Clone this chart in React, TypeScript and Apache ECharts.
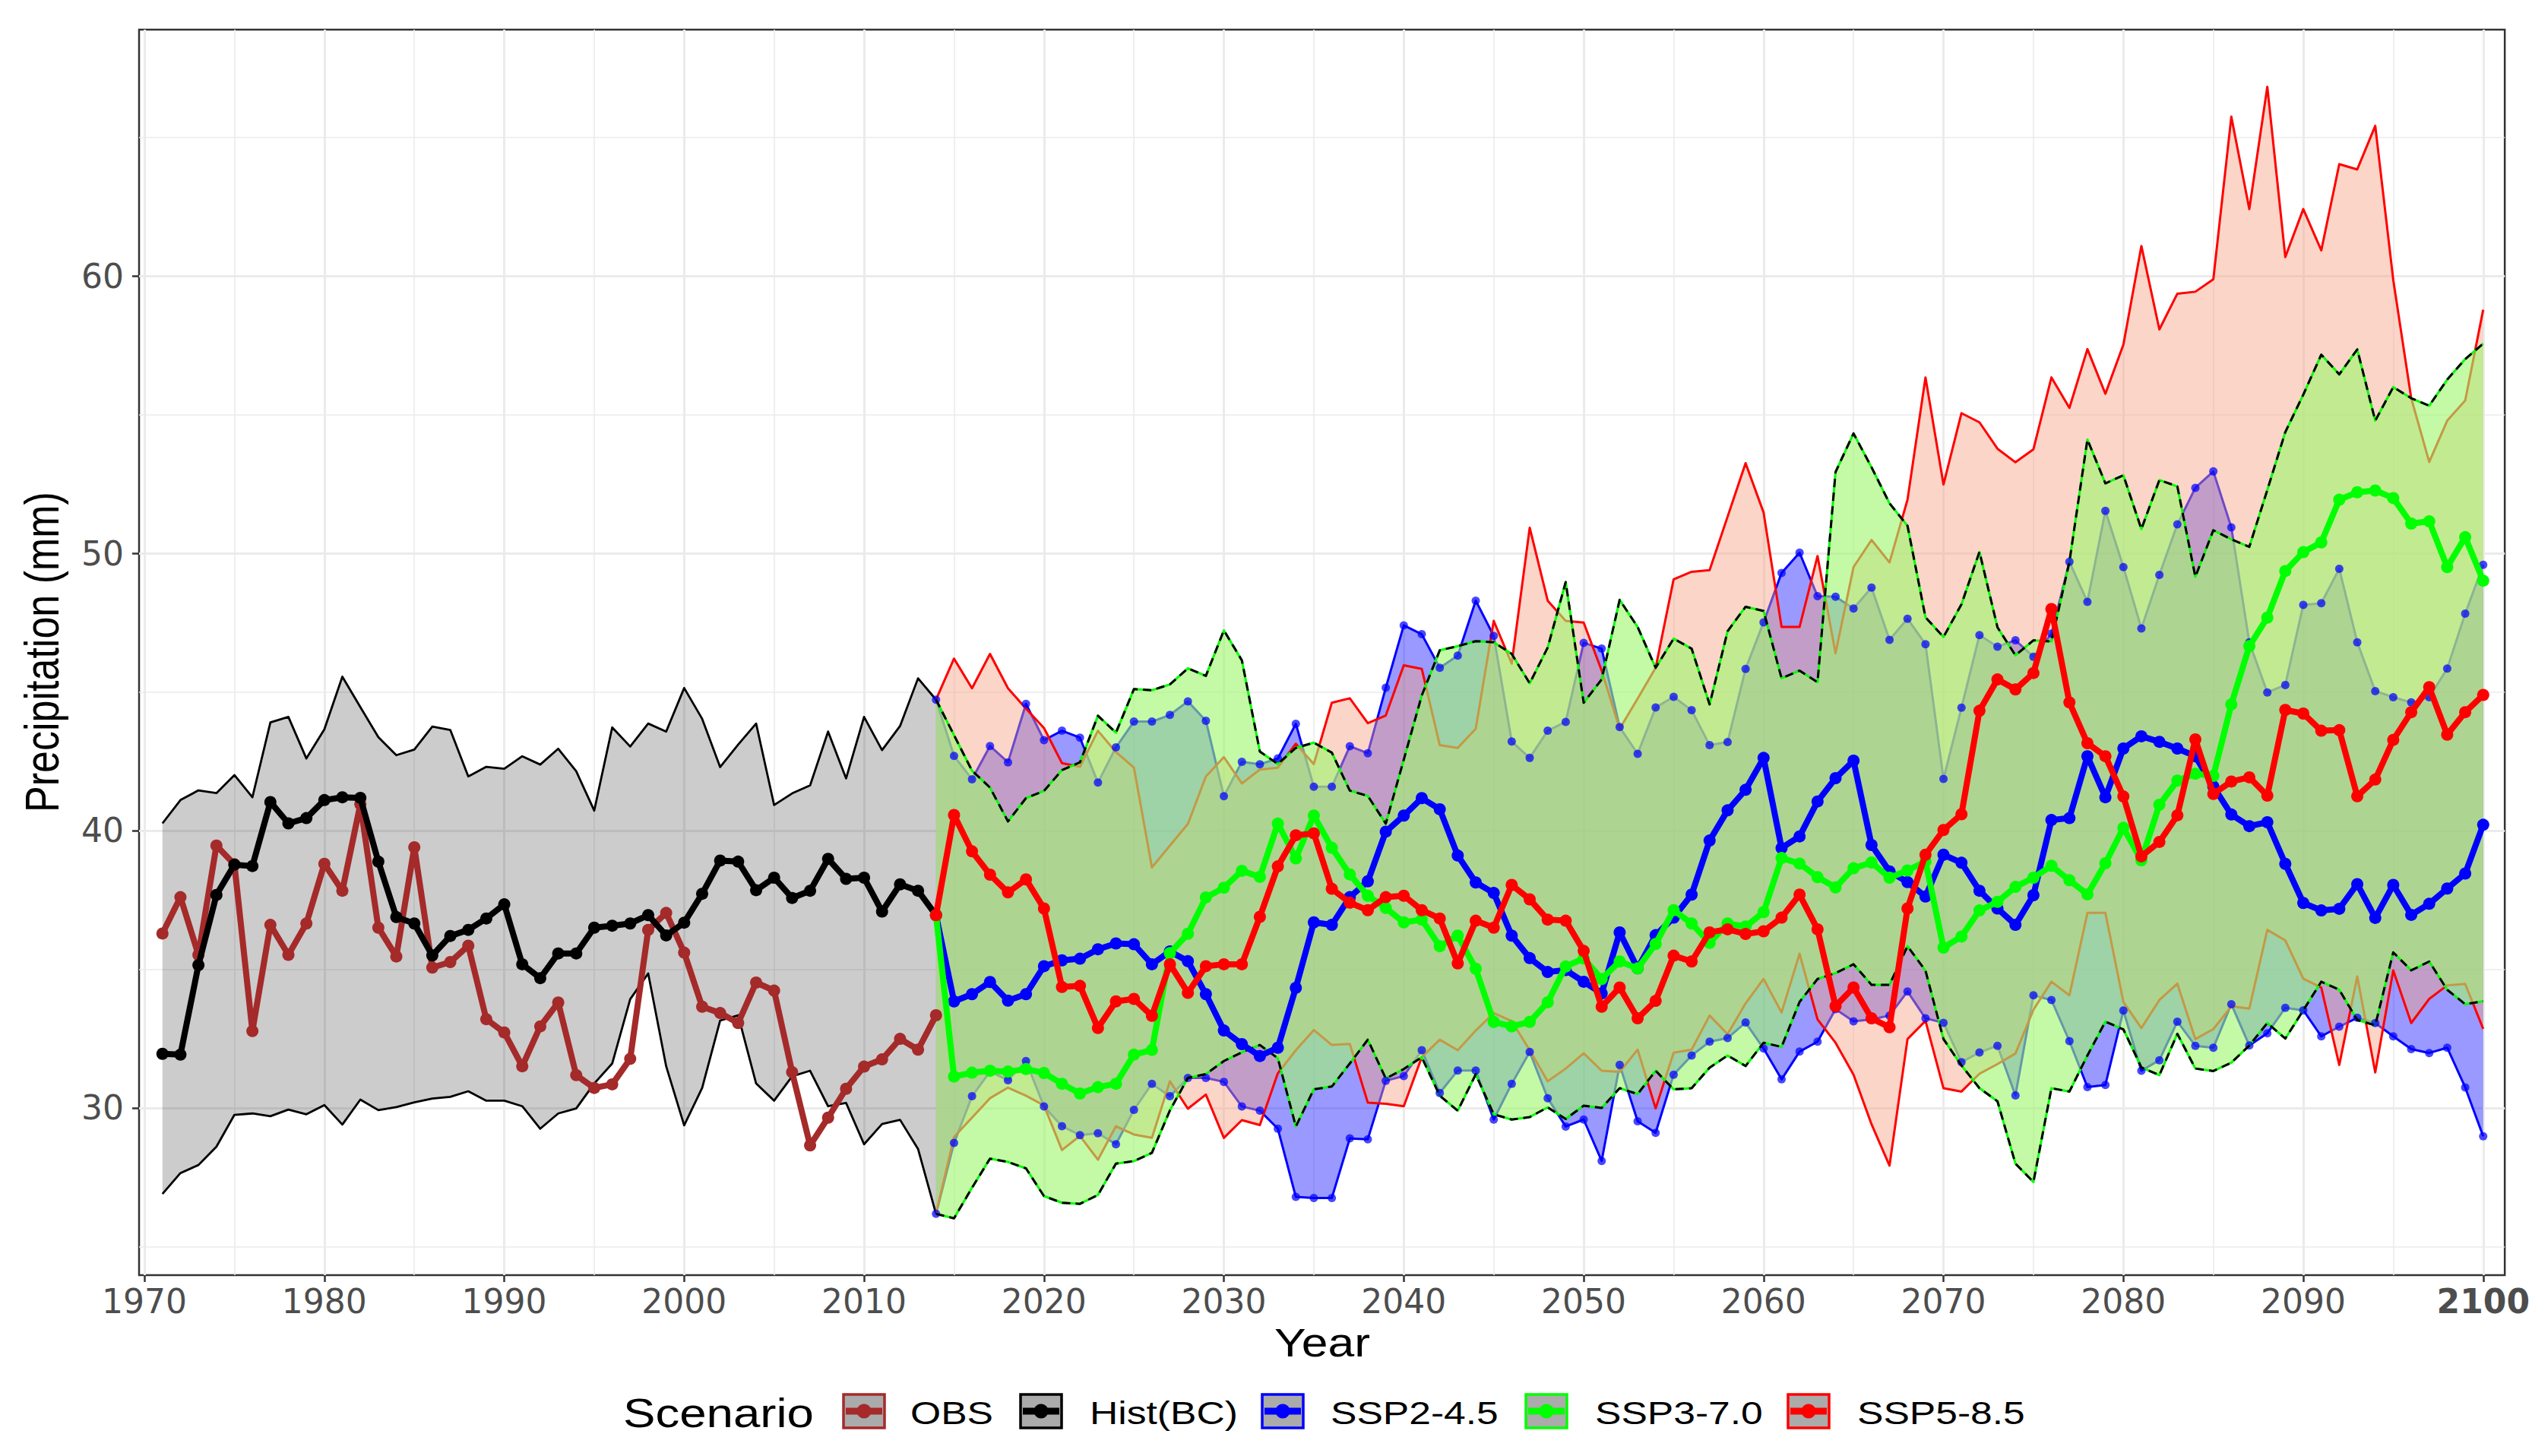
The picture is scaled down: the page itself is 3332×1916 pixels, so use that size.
import React, { useEffect, useRef } from 'react';
import * as echarts from 'echarts';

// ---------- DATA ----------
const histYears: number[] = Array.from({ length: 44 }, (_, i) => 1971 + i); // 1971..2014
const futureYears: number[] = Array.from({ length: 87 }, (_, i) => 2014 + i); // 2014..2100

const obsValues = [
  36.29, 37.6, 35.52, 39.46, 38.78, 32.77, 36.6, 35.52, 36.65, 38.8,
  37.83, 40.95, 36.5, 35.46, 39.4, 35.06, 35.26, 35.85, 33.2, 32.72,
  31.5, 32.94, 33.8, 31.18, 30.72, 30.85, 31.77, 36.42, 37.03, 35.6,
  33.65, 33.42, 33.06, 34.52, 34.23, 31.29, 28.65, 29.65, 30.69, 31.49,
  31.75, 32.49, 32.1, 33.34,
];
const histMean = [
  31.95, 31.92, 35.15, 37.68, 38.77, 38.72, 41.03, 40.26, 40.45, 41.1,
  41.2, 41.18, 38.88, 36.88, 36.65, 35.5, 36.2, 36.42, 36.83, 37.34,
  35.18, 34.68, 35.57, 35.57, 36.5, 36.57, 36.65, 36.95, 36.22, 36.68,
  37.72, 38.92, 38.88, 37.85, 38.3, 37.57, 37.83, 38.98, 38.26, 38.3,
  37.08, 38.06, 37.83, 36.95,
];
const histUpper = [
  40.26, 41.1, 41.45, 41.35, 42.0, 41.2, 43.9, 44.1, 42.6, 43.65,
  45.55, 44.45, 43.37, 42.72, 42.92, 43.75, 43.63, 41.95, 42.3, 42.23,
  42.68, 42.38, 42.95, 42.14, 40.72, 43.72, 43.03, 43.86, 43.57, 45.14,
  44.03, 42.29, 43.1, 43.86, 40.92, 41.34, 41.63, 43.57, 41.88, 44.1,
  42.9, 43.77, 45.49, 44.72,
];
const histLower = [
  26.9, 27.65, 27.94, 28.6, 29.75, 29.8, 29.7, 29.94, 29.77, 30.1,
  29.4, 30.3, 29.92, 30.03, 30.2, 30.34, 30.4, 30.6, 30.26, 30.26,
  30.06, 29.25, 29.8, 29.98, 30.88, 31.6, 33.92, 34.85, 31.5, 29.37,
  30.72, 33.15, 33.34, 30.88, 30.26, 31.14, 31.34, 30.06, 30.18, 28.69,
  29.42, 29.57, 28.52, 26.18,
];

const ssp245Mean = [
  36.95, 33.84, 34.1, 34.54, 33.87, 34.1,
  35.11, 35.32, 35.38, 35.72, 35.93, 35.9, 35.18, 35.64, 35.29, 34.1,
  32.79, 32.3, 31.87, 32.17, 34.33, 36.69, 36.6, 37.6, 38.17, 39.96,
  40.54, 41.17, 40.77, 39.1, 38.13, 37.75, 36.21, 35.4, 34.9, 34.97,
  34.55, 34.13, 36.33, 35.03, 36.23, 36.86, 37.69, 39.64, 40.73, 41.47,
  42.62, 39.37, 39.79, 41.05, 41.89, 42.52, 39.48, 38.53, 38.14, 37.62,
  39.13, 38.84, 37.83, 37.19, 36.6, 37.67, 40.38, 40.45, 42.68, 41.2,
  42.96, 43.4, 43.2, 42.96, 42.68, 41.59, 40.58, 40.16, 40.3, 38.8,
  37.39, 37.12, 37.18, 38.07, 36.85, 38.04, 36.96, 37.36, 37.91, 38.45, 40.21,
];
const ssp245Upper = [
  44.72, 42.69, 41.85, 43.05, 42.46, 44.57,
  43.26, 43.6, 43.35, 41.73, 43.0, 43.93, 43.93, 44.17, 44.66, 43.96,
  41.24, 42.48, 42.39, 42.6, 43.85, 41.58, 41.58, 43.04, 42.79, 45.15,
  47.4, 47.08, 45.87, 46.31, 48.29, 47.02, 43.21, 42.62, 43.6, 43.92,
  46.77, 46.56, 43.73, 42.77, 44.44, 44.82, 44.34, 43.08, 43.19, 45.83,
  47.51, 49.29, 50.02, 48.45, 48.43, 48.01, 48.76, 46.88, 47.64, 46.72,
  41.86, 44.43, 47.05, 46.63, 46.86, 46.27, 47.1, 49.69, 48.25, 51.53,
  49.5, 47.29, 49.22, 51.04, 52.36, 52.95, 50.93, 46.79, 44.98, 45.25,
  48.14, 48.2, 49.44, 46.79, 45.03, 44.81, 44.62, 44.81, 45.84, 47.82, 49.58,
];
const ssp245Lower = [
  26.18, 28.74, 30.42, 31.31, 31.0, 31.69,
  30.05, 29.34, 29.02, 29.09, 28.69, 29.93, 30.87, 30.42, 31.08, 31.08,
  30.94, 30.05, 29.9, 29.25, 26.79, 26.75, 26.75, 28.9, 28.87, 30.98,
  31.15, 32.08, 30.54, 31.35, 31.35, 29.58, 30.87, 32.02, 30.35, 29.33,
  29.58, 28.09, 31.55, 29.52, 29.1, 31.2, 31.89, 32.39, 32.52, 33.08,
  32.14, 31.03, 32.03, 32.39, 33.56, 33.12, 33.19, 33.33, 34.2, 33.23,
  33.07, 31.65, 32.0, 32.24, 30.45, 34.06, 33.89, 32.41, 30.75, 30.83,
  33.51, 31.34, 31.72, 33.11, 32.24, 32.17, 33.74, 32.25, 32.69, 33.61,
  33.52, 32.58, 32.93, 33.25, 33.06, 32.58, 32.12, 31.98, 32.17, 30.74, 28.98,
];

const ssp370Mean = [
  36.95, 31.13, 31.27, 31.34, 31.31, 31.4,
  31.26, 30.87, 30.52, 30.75, 30.87, 31.92, 32.09, 35.58, 36.28, 37.59,
  37.94, 38.55, 38.33, 40.25, 39.0, 40.54, 39.38, 38.42, 37.65, 37.21,
  36.69, 36.79, 35.83, 36.21, 35.02, 33.1, 32.94, 33.1, 33.81, 35.1,
  35.39, 34.65, 35.28, 35.03, 35.91, 37.13, 36.65, 35.95, 36.65, 36.54,
  37.06, 39.01, 38.81, 38.32, 37.95, 38.64, 38.85, 38.3, 38.56, 38.89,
  35.78, 36.18, 37.12, 37.43, 37.97, 38.3, 38.73, 38.21, 37.7, 38.82,
  40.1, 38.93, 40.93, 41.8, 42.05, 41.97, 44.55, 46.65, 47.68, 49.36,
  50.04, 50.39, 51.93, 52.2, 52.26, 51.99, 51.07, 51.15, 49.5, 50.58, 49.01,
];
const ssp370Upper = [
  44.72, 43.44, 42.16, 41.55, 40.33, 41.17,
  41.43, 42.18, 42.46, 44.14, 43.53, 45.1, 45.06, 45.27, 45.85, 45.58,
  47.22, 46.14, 42.85, 42.4, 42.98, 43.17, 42.81, 41.44, 41.25, 40.25,
  42.56, 44.87, 46.5, 46.65, 46.83, 46.79, 46.37, 45.31, 46.6, 48.96,
  44.61, 45.45, 48.32, 47.34, 45.87, 46.92, 46.56, 44.55, 47.19, 48.07,
  47.92, 45.49, 45.77, 45.35, 52.93, 54.32, 53.1, 51.8, 50.99, 47.69,
  46.98, 48.16, 50.05, 47.33, 46.32, 46.86, 46.82, 49.69, 54.1, 52.52,
  52.81, 50.87, 52.64, 52.41, 49.15, 50.83, 50.5, 50.23, 52.28, 54.37,
  55.72, 57.16, 56.45, 57.35, 54.78, 55.99, 55.59, 55.32, 56.26, 57.0, 57.56,
];
const ssp370Lower = [
  26.18, 26.02, 27.12, 28.17, 28.05, 27.82,
  26.82, 26.58, 26.54, 26.86, 27.99, 28.08, 28.38, 29.91, 31.08, 31.22,
  31.69, 32.0, 32.27, 31.79, 29.33, 30.67, 30.77, 31.6, 32.46, 31.06,
  31.4, 31.83, 30.44, 29.9, 31.21, 29.77, 29.58, 29.67, 30.02, 29.6,
  30.08, 30.0, 30.71, 30.5, 31.34, 30.67, 30.71, 31.45, 31.89, 31.51,
  32.35, 32.2, 33.82, 34.65, 34.86, 35.18, 34.44, 34.44, 35.83, 34.95,
  32.48, 31.53, 30.71, 30.24, 27.99, 27.33, 30.71, 30.59, 31.89, 33.11,
  32.83, 31.46, 31.18, 32.67, 31.42, 31.33, 31.63, 32.25, 33.06, 32.5,
  33.52, 34.55, 34.26, 33.17, 32.98, 35.61, 34.96, 35.28, 34.26, 33.74, 33.85,
];

const ssp585Mean = [
  36.95, 40.56, 39.25, 38.41, 37.77, 38.24,
  37.19, 34.36, 34.4, 32.88, 33.84, 33.93, 33.32, 35.18, 34.15, 35.11,
  35.18, 35.18, 36.89, 38.71, 39.83, 39.9, 37.9, 37.4, 37.13, 37.6,
  37.65, 37.13, 36.83, 35.21, 36.75, 36.5, 38.04, 37.52, 36.79, 36.75,
  35.66, 33.65, 34.34, 33.23, 33.86, 35.49, 35.28, 36.33, 36.44, 36.27,
  36.37, 36.86, 37.69, 36.44, 33.67, 34.34, 33.23, 32.91, 37.19, 39.13,
  40.02, 40.59, 44.32, 45.45, 45.09, 45.68, 47.99, 44.62, 43.15, 42.68,
  41.23, 39.07, 39.59, 40.55, 43.29, 41.32, 41.77, 41.92, 41.26, 44.35,
  44.22, 43.6, 43.62, 41.24, 41.84, 43.27, 44.27, 45.17, 43.46, 44.27, 44.89,
];
const ssp585Upper = [
  44.72, 46.2, 45.13, 46.37, 45.13, 44.4,
  43.7, 42.43, 42.3, 43.6, 42.83, 42.27, 38.67, 39.46, 40.24, 41.95,
  42.65, 41.7, 42.2, 42.27, 43.13, 42.4, 44.61, 44.77, 43.87, 44.15,
  45.96, 45.83, 43.08, 42.98, 43.67, 47.56, 46.02, 50.92, 48.29, 47.56,
  47.5, 45.77, 43.67, 44.76, 45.87, 49.06, 49.33, 49.39, 51.32, 53.25,
  51.47, 47.34, 47.34, 49.9, 46.39, 49.5, 50.48, 49.67, 51.93, 56.34,
  52.48, 55.05, 54.72, 53.77, 53.28, 53.75, 56.34, 55.24, 57.36, 55.75,
  57.52, 61.08, 58.07, 59.36, 59.43, 59.88, 65.74, 62.41, 66.82, 60.68,
  62.41, 60.92, 64.03, 63.84, 65.41, 59.86, 55.59, 53.29, 54.78, 55.51, 58.78,
];
const ssp585Lower = [
  26.18, 28.95, 29.65, 30.35, 30.73, 30.44,
  30.09, 28.48, 28.99, 28.13, 29.34, 29.04, 28.92, 30.96, 29.97, 30.48,
  28.92, 29.56, 29.38, 31.25, 32.08, 32.81, 32.27, 32.31, 30.19, 30.15,
  30.06, 31.83, 32.46, 32.08, 32.79, 33.42, 33.13, 32.08, 30.96, 31.42,
  31.97, 31.34, 31.3, 32.1, 29.98, 31.99, 32.1, 33.33, 32.66, 33.77,
  34.65, 33.44, 35.56, 33.19, 32.35, 31.2, 29.41, 27.92, 32.48, 33.14,
  30.71, 30.59, 31.23, 31.58, 31.96, 33.54, 34.55, 34.06, 37.03, 37.03,
  33.82, 32.88, 33.89, 34.48, 32.48, 32.84, 33.66, 33.58, 36.42, 36.04,
  34.66, 34.34, 31.55, 34.74, 31.28, 34.96, 33.06, 33.93, 34.42, 34.47, 32.85,
];

const xTickValues = [1970, 1980, 1990, 2000, 2010, 2020, 2030, 2040, 2050, 2060, 2070, 2080, 2090, 2100];
const yTickValues = [30, 40, 50, 60];
const xMinorValues = [1975, 1985, 1995, 2005, 2015, 2025, 2035, 2045, 2055, 2065, 2075, 2085, 2095];
const yMinorValues = [25, 35, 45, 55, 65];

const legendNames = ['OBS', 'Hist(BC)', 'SSP2-4.5', 'SSP3-7.0', 'SSP5-8.5'];
const legendColors = ['#A52A2A', '#000000', '#0000FF', '#00FF00', '#FF0000'];

// ---------- STYLE / LAYOUT ----------
const FONT = "'Liberation Sans', Arial, Helvetica, sans-serif";
const TICK_FONT = "'DejaVu Sans', 'Liberation Sans', sans-serif";
const legendKeyX = [1110, 1343, 1661, 2008, 2353];
const legendTextX = [1198, 1434, 1751, 2099, 2444];

const pairs = (xs: number[], ys: number[]) => xs.map((x, i) => [x, ys[i]]);

function bandSeries(xs: number[], lo: number[], hi: number[], fill: string, z: number) {
  return {
    type: 'custom',
    silent: true,
    clip: true,
    z,
    renderItem: (params: any, api: any) => {
      if (params.dataIndex !== 0) return null;
      const pts: number[][] = [];
      for (let i = 0; i < xs.length; i++) pts.push(api.coord([xs[i], hi[i]]));
      for (let i = xs.length - 1; i >= 0; i--) pts.push(api.coord([xs[i], lo[i]]));
      return { type: 'polygon', shape: { points: pts }, style: { fill } };
    },
    encode: { x: 0, y: 1 },
    data: [[xs[0], hi[0]]],
  };
}

function lineSeries(xs: number[], ys: number[], color: string, width: number, z: number, extra: any = {}) {
  return {
    type: 'line',
    silent: true,
    z,
    data: pairs(xs, ys),
    symbol: extra.symbolSize ? 'circle' : 'none',
    symbolSize: extra.symbolSize || 0,
    showSymbol: !!extra.symbolSize,
    showAllSymbol: true,
    itemStyle: { color },
    lineStyle: { color, width, type: extra.dash || 'solid', join: 'round', cap: 'butt' },
    emphasis: { disabled: true },
    ...(extra.markLine ? { markLine: extra.markLine } : {}),
  };
}

function dotSeries(xs: number[], ys: number[], color: string, size: number, opacity: number, z: number) {
  return {
    type: 'scatter',
    silent: true,
    z,
    data: pairs(xs, ys),
    symbol: 'circle',
    symbolSize: size,
    itemStyle: { color, opacity },
    emphasis: { disabled: true },
  };
}

export default function App() {
  const ref = useRef<HTMLDivElement>(null);

  useEffect(() => {
    if (!ref.current) return;
    const chart = echarts.init(ref.current, null, { renderer: 'svg', width: 3332, height: 1916 });

    const MEAN_W = 8;
    const MEAN_S = 16;

    const series: any[] = [
      // Hist(BC) band
      bandSeries(histYears, histLower, histUpper, 'rgba(0,0,0,0.2)', 2),
      lineSeries(histYears, histUpper, '#000000', 2.8, 3, {
        markLine: {
          silent: true,
          z: 1,
          animation: false,
          symbol: ['none', 'none'],
          label: { show: false },
          emphasis: { disabled: true },
          lineStyle: { color: '#EBEBEB', width: 1.6, type: 'solid' },
          data: [
            ...xMinorValues.map((v) => ({ xAxis: v })),
            ...yMinorValues.map((v) => ({ yAxis: v })),
          ],
        },
      }),
      lineSeries(histYears, histLower, '#000000', 2.8, 3),
      // SSP2-4.5 band
      bandSeries(futureYears, ssp245Lower, ssp245Upper, 'rgba(0,0,255,0.4)', 4),
      lineSeries(futureYears, ssp245Upper, '#0000FF', 3, 5),
      lineSeries(futureYears, ssp245Lower, '#0000FF', 3, 5),
      // SSP5-8.5 band
      bandSeries(futureYears, ssp585Lower, ssp585Upper, 'rgba(244,162,133,0.45)', 6),
      lineSeries(futureYears, ssp585Upper, '#FF0000', 3, 7),
      lineSeries(futureYears, ssp585Lower, '#FF0000', 3, 7),
      // SSP3-7.0 band
      bandSeries(futureYears, ssp370Lower, ssp370Upper, 'rgba(160,247,111,0.62)', 8),
      lineSeries(futureYears, ssp370Upper, '#00FF00', 3, 9),
      lineSeries(futureYears, ssp370Lower, '#00FF00', 3, 9),
      // SSP2-4.5 band points
      dotSeries(futureYears, ssp245Upper, '#0000FF', 11, 0.72, 10),
      dotSeries(futureYears, ssp245Lower, '#0000FF', 11, 0.72, 10),
      // SSP3-7.0 dashed edges
      lineSeries(futureYears, ssp370Upper, '#000000', 3, 11, { dash: [11, 7] }),
      lineSeries(futureYears, ssp370Lower, '#000000', 3, 11, { dash: [11, 7] }),
      // means
      lineSeries(histYears, obsValues, '#A52A2A', MEAN_W, 12, { symbolSize: MEAN_S }),
      lineSeries(histYears, histMean, '#000000', MEAN_W, 13, { symbolSize: MEAN_S }),
      lineSeries(futureYears, ssp245Mean, '#0000FF', MEAN_W, 14, { symbolSize: MEAN_S }),
      lineSeries(futureYears, ssp370Mean, '#00FF00', MEAN_W, 15, { symbolSize: MEAN_S }),
      lineSeries(futureYears, ssp585Mean, '#FF0000', MEAN_W, 16, { symbolSize: MEAN_S }),
    ];

    const legendY = 1835;
    const legendH = 44;
    const legendW = 54;
    const legendMid = legendY + legendH / 2;
    const legendGraphics: any[] = [];
    legendNames.forEach((name, i) => {
      const x = legendKeyX[i];
      const c = legendColors[i];
      legendGraphics.push({
        type: 'rect',
        shape: { x, y: legendY, width: legendW, height: legendH },
        style: { fill: '#ABABAB', stroke: c, lineWidth: 3.5 },
        silent: true,
      });
      legendGraphics.push({
        type: 'line',
        shape: { x1: x + 3, y1: legendMid, x2: x + legendW - 3, y2: legendMid },
        style: { stroke: c, lineWidth: 9 },
        silent: true,
      });
      legendGraphics.push({
        type: 'circle',
        shape: { cx: x + legendW / 2, cy: legendMid, r: 9.5 },
        style: { fill: c },
        silent: true,
      });
      legendGraphics.push({
        type: 'text',
        x: legendTextX[i],
        y: legendMid + 2,
        scaleX: 1.2,
        style: {
          text: name,
          fontSize: 43,
          fontFamily: FONT,
          fill: '#000000',
          align: 'left',
          verticalAlign: 'middle',
          textAlign: 'left',
          textVerticalAlign: 'middle',
        },
        silent: true,
      });
    });

    const tickLabel = {
      color: '#4D4D4D',
      fontSize: 44,
      fontFamily: TICK_FONT,
    };

    const option: any = {
      animation: false,
      backgroundColor: '#FFFFFF',
      grid: {
        left: 183,
        right: 34,
        top: 39,
        bottom: 238,
        show: true,
        borderColor: '#333333',
        borderWidth: 2.5,
        backgroundColor: 'transparent',
        containLabel: false,
      },
      xAxis: {
        type: 'value',
        min: 1969.7,
        max: 2101.2,
        minInterval: 10,
        maxInterval: 10,
        splitNumber: 13,
        axisLine: { show: false, onZero: false },
        axisTick: {
          show: true,
          length: 9,
          lineStyle: { color: '#333333', width: 2.5 },
          customValues: xTickValues,
        },
        axisLabel: {
          ...tickLabel,
          margin: 12,
          customValues: xTickValues,
          formatter: (v: number) => {
            if (Math.abs(v % 10) > 1e-6) return '';
            if (v === 2100) return '{b|2100}';
            return String(v);
          },
          rich: {
            b: { ...tickLabel, fontWeight: 'bold' },
          },
        },
        splitLine: { show: true, lineStyle: { color: '#EBEBEB', width: 3 } },
      },
      yAxis: {
        type: 'value',
        min: 23.97,
        max: 68.88,
        minInterval: 10,
        maxInterval: 10,
        splitNumber: 5,
        axisLine: { show: false, onZero: false },
        axisTick: {
          show: true,
          length: 9,
          lineStyle: { color: '#333333', width: 2.5 },
          customValues: yTickValues,
        },
        axisLabel: {
          ...tickLabel,
          margin: 20,
          customValues: yTickValues,
          formatter: (v: number) => (Math.abs(v % 10) > 1e-6 ? '' : String(v)),
        },
        splitLine: { show: true, lineStyle: { color: '#EBEBEB', width: 3 } },
      },
      series,
      graphic: [
        {
          type: 'text',
          x: 1740,
          y: 1767,
          scaleX: 1.2,
          style: {
            text: 'Year',
            fontSize: 52,
            fontFamily: FONT,
            fill: '#000000',
            align: 'center',
            verticalAlign: 'middle',
            textAlign: 'center',
            textVerticalAlign: 'middle',
          },
          silent: true,
        },
        {
          type: 'text',
          x: 55,
          y: 858,
          rotation: Math.PI / 2,
          scaleY: 1.2,
          style: {
            text: 'Precipitation (mm)',
            fontSize: 52,
            fontFamily: FONT,
            fill: '#000000',
            align: 'center',
            verticalAlign: 'middle',
            textAlign: 'center',
            textVerticalAlign: 'middle',
          },
          silent: true,
        },
        {
          type: 'text',
          x: 820,
          y: legendMid + 2,
          scaleX: 1.2,
          style: {
            text: 'Scenario',
            fontSize: 53,
            fontFamily: FONT,
            fill: '#000000',
            align: 'left',
            verticalAlign: 'middle',
            textAlign: 'left',
            textVerticalAlign: 'middle',
          },
          silent: true,
        },
        ...legendGraphics,
      ],
    };

    chart.setOption(option);
    return () => {
      chart.dispose();
    };
  }, []);

  return (
    <div
      ref={ref}
      style={{ position: 'fixed', left: 0, top: 0, width: 3332, height: 1916, background: '#FFFFFF' }}
    />
  );
}
